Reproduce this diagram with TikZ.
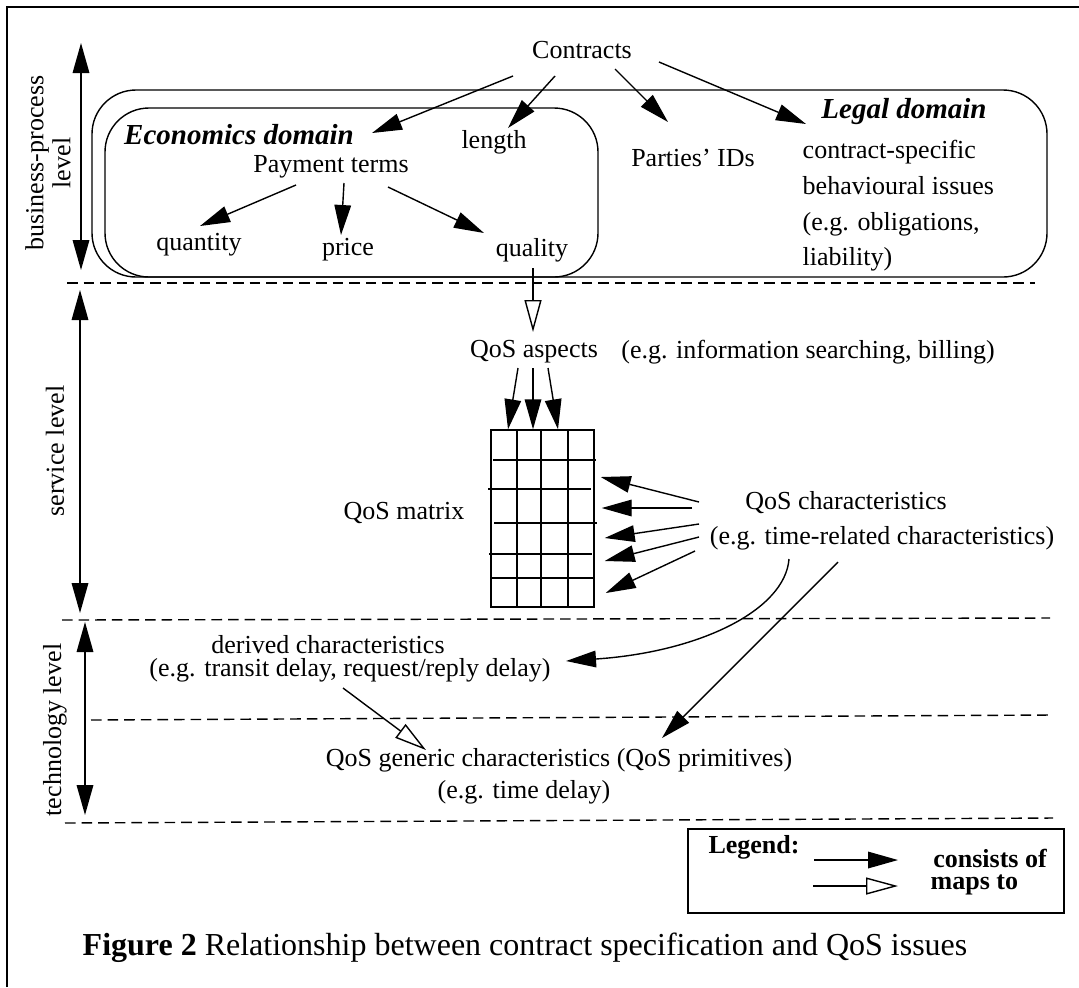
\documentclass[tikz,border=0pt]{standalone}
\usepackage{fontspec}
\setmainfont{Liberation Serif}
\usetikzlibrary{arrows.meta,calc}

\tikzset{
  txt/.style={inner sep=0pt, font=\fontsize{13}{15.6}\selectfont},
  domlbl/.style={inner sep=0pt, font=\fontsize{14.5}{17}\selectfont\bfseries\itshape},
  lgd/.style={inner sep=0pt, font=\fontsize{13}{15.6}\selectfont\bfseries},
  consists/.style={-{Triangle[length=15pt,width=8.3pt]}},
  mapsto/.style={-{Triangle[open,length=16pt,width=8.5pt]}},
  levelarrow/.style={{Triangle[length=15pt,width=8.3pt]}-{Triangle[length=15pt,width=8.3pt]}},
  levelsep/.style={dash pattern=on 5.3pt off 3pt},
}

\begin{document}
\begin{tikzpicture}[x=0.5pt, y=-0.5pt, line width=0.7pt]
  \useasboundingbox (0,0) rectangle (1079,987);
  % frame
  \draw[line width=1pt] (7,987) -- (7,7) -- (1079,7);

  % level separators
  \draw[levelsep] (67,283) -- (1035,283);
  \draw[levelsep] (62,620) -- (1050,618);
  \draw[levelsep] (91,720) -- (1051,715);
  \draw[levelsep] (65,823) -- (1053,818);

  % levels
  \coordinate (bptop) at (81,43);  \coordinate (bpbot) at (81,270);
  \coordinate (svtop) at (80,290); \coordinate (svbot) at (80,613);
  \coordinate (tctop) at (85,622); \coordinate (tcbot) at (85,815);
  \draw[levelarrow] (bptop) -- (bpbot);
  \draw[levelarrow] (svtop) -- (svbot);
  \draw[levelarrow] (tctop) -- (tcbot);
  \node[txt, rotate=90, align=center, font=\fontsize{13}{13.5}\selectfont] (bplbl) at (48,163) {business-process\\level};
  \node[txt, rotate=90] (svlbl) at (55,451) {service level};
  \node[txt, rotate=90] (tclbl) at (55,730) {technology level};

  % domains
  \draw[rounded corners=22pt] (92,90) rectangle (1047,277);
  \draw[rounded corners=22pt] (105,108) rectangle (598,277);

  % business-process level
  \node[txt] (contracts) at (582,50) {Contracts};
  \node[domlbl] (econ) at (239,135) {Economics domain};
  \node[txt] (length) at (494,142) {length};
  \node[txt] (payment) at (331,167) {Payment terms};
  \node[txt] (quantity) at (199,245) {quantity};
  \node[txt] (price) at (348,250) {price};
  \node[txt] (quality) at (532,250) {quality};
  \node[domlbl] (legal) at (904,112) {Legal domain};
  \node[txt] (parties) at (693,158) {Parties' IDs};
  \node[txt, anchor=west, align=left, font=\fontsize{13}{17.85}\selectfont] (issues) at (802,206)
    {contract-specific\\behavioural issues\\(e.g. obligations,\\liability)};

  \draw[consists] ([shift={(-69,26)}]contracts.center) -- ([shift={(133,-2)}]econ.center);
  \draw[consists] ([shift={(-27,26)}]contracts.center) -- ([shift={(14,-14)}]length.center);
  \draw[consists] ([shift={(33,19)}]contracts.center) -- ([shift={(-25,-36)}]parties.center);
  \draw[consists] ([shift={(77,12)}]contracts.center) -- ([shift={(-98,12)}]legal.center);
  \draw[consists] ([shift={(-35,18)}]payment.center) -- ([shift={(1,-19)}]quantity.center);
  \draw[consists] ([shift={(13,16)}]payment.center) -- ([shift={(-7,-15)}]price.center);
  \draw[consists] ([shift={(57,20)}]payment.center) -- ([shift={(-48,-17)}]quality.center);

  % service level
  \node[txt] (aspects) at (534,352) {QoS aspects};
  \node[txt] (aspectseg) at (808,352) {(e.g. information searching, billing)};
  \node[txt] (matrixlbl) at (404,513) {QoS matrix};
  \node[draw, minimum width=51.5pt, minimum height=88.5pt, inner sep=0pt] (qmatrix) at (542.5,518.5) {};
  \foreach \gx in {517,541,568}
    \draw (\gx,430) -- (\gx,607);
  \foreach \gy/\ga/\gb in {460/493/596, 489/488/591, 523/494/597, 554/489/592, 578/491/594}
    \draw (\ga,\gy) -- (\gb,\gy);
  \node[txt] (chars) at (846,503) {QoS characteristics};
  \node[txt] (charseg) at (882,538) {(e.g. time-related characteristics)};

  \draw[mapsto] ([shift={(1,18)}]quality.center) -- ([shift={(-1,-20)}]aspects.center);
  \foreach \sx/\tx in {-16/-34.5, -1/-9.5, 14/15.5}
    \draw[consists] ([shift={(\sx,16)}]aspects.center) -- ([shift={(\tx,0)}]qmatrix.north);
  \foreach \sx/\sy/\tx/\ty in {-147/-1/6/-41.5, -154/5/7/-10.5, -147/21/10/19.5, -147/34/10/42.5, -151/48/11/74.5}
    \draw[consists] ([shift={(\sx,\sy)}]chars.center) -- ([shift={(\tx,\ty)}]qmatrix.east);

  % technology level
  \node[txt] (derived) at (328,645) {derived characteristics};
  \node[txt] (derivedeg) at (350,670) {(e.g. transit delay, request/reply delay)};
  \node[txt] (generic) at (559,760) {QoS generic characteristics (QoS primitives)};
  \node[txt] (genericeg) at (524,792) {(e.g. time delay)};

  \draw[consists] ([shift={(-93,21)}]charseg.center) .. controls +(-4,51) and +(134,-9) .. ([shift={(216,-9)}]derivedeg.center);
  \draw[consists] ([shift={(-44,24)}]charseg.center) -- ([shift={(103,-22)}]generic.center);
  \draw[mapsto] ([shift={(-7,18)}]derivedeg.center) -- ([shift={(-133,-10)}]generic.center);

  % legend
  \node[draw, line width=0.8pt, minimum width=188pt, minimum height=42pt, inner sep=0pt] (legendbox) at (876,871) {};
  \node[lgd] (lgdtitle) at (754,847) {Legend:};
  \node[lgd] (consistslbl) at (990,858) {consists of};
  \node[lgd, anchor=west] (mapslbl) at (930,885) {maps to};
  \coordinate (cstart) at (814,860); \coordinate (cend) at (898,860);
  \coordinate (mstart) at (813,886); \coordinate (mend) at (898,886);
  \draw[consists] (cstart) -- (cend);
  \draw[mapsto] (mstart) -- (mend);

  \node[inner sep=0pt, font=\fontsize{16}{19}\selectfont] (caption) at (525,948)
    {\textbf{Figure 2} Relationship between contract specification and QoS issues};
\end{tikzpicture}
\end{document}
